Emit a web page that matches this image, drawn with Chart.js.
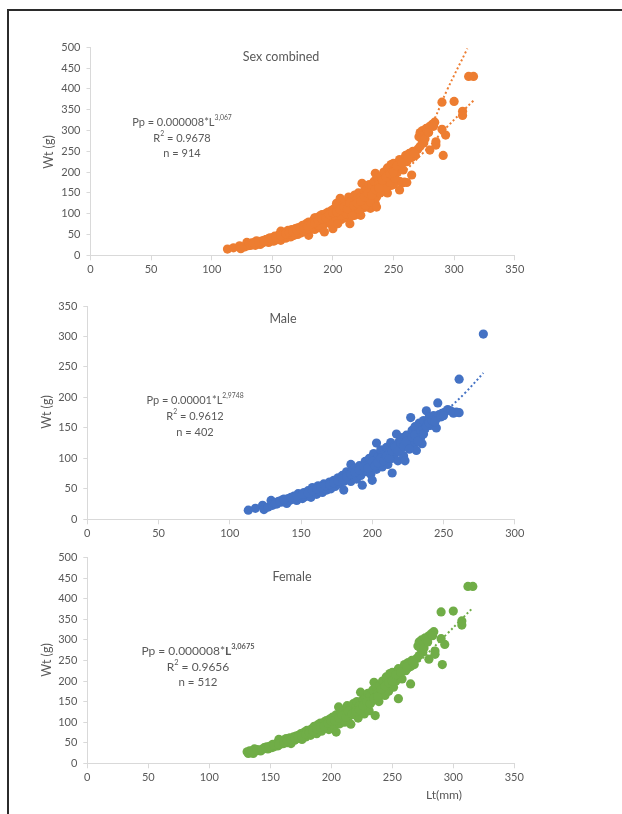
<!DOCTYPE html>
<html>
<head>
<meta charset="utf-8">
<script src="https://cdn.jsdelivr.net/npm/chart.js@4.4.0/dist/chart.umd.min.js"></script>
<style>
  body { margin: 0; background: #fff; width: 622px; height: 814px; overflow: hidden; position: relative; }
  .frame { position: absolute; left: 7px; top: 9px; width: 700px; height: 900px; border-left: 2px solid #2b2b2b; border-top: 2px solid #2b2b2b; }
  canvas { position: absolute; left: 0; }
</style>
</head>
<body>
<div class="frame"></div>
<canvas id="chartAll" width="622" height="290" style="top:0px"></canvas>
<canvas id="chartMale" width="622" height="260" style="top:285px"></canvas>
<canvas id="chartFemale" width="622" height="269" style="top:545px"></canvas>
<script>
// Male: total length (mm) and weight (g)
const maleLt = [113, 118, 123, 124, 127, 129, 130, 131, 133, 134, 136, 137, 139, 140, 141, 142, 144, 145, 146, 147,
  148, 149, 150, 151, 152, 153, 154, 155, 156, 157, 158, 159, 160, 161, 162, 163, 164, 165, 166, 167,
  168, 169, 170, 171, 172, 173, 174, 175, 176, 177, 178, 179, 180, 180, 181, 182, 183, 184, 185, 185,
  186, 187, 188, 189, 190, 191, 192, 193, 194, 195, 196, 197, 198, 199, 200, 200, 201, 202, 203, 203,
  204, 205, 206, 207, 208, 209, 210, 211, 212, 213, 214, 214, 215, 216, 217, 218, 219, 220, 221, 222,
  223, 224, 225, 226, 227, 228, 229, 230, 231, 232, 233, 234, 235, 236, 237, 238, 239, 240, 241, 243,
  245, 245, 246, 247, 249, 251, 253, 255, 257, 259, 261, 261, 278,
  132, 135, 138, 143, 147, 151, 155, 158, 161, 164, 167, 170, 173, 176, 179, 182, 185, 188, 191, 194,
  197, 200, 202, 204, 206, 208, 210, 212, 214, 216, 218, 220, 222, 224, 226, 228, 230, 232, 234, 236,
  238, 240, 242, 244, 248, 250];
const maleWt = [15, 18, 23, 16, 20, 31, 23, 27, 25, 29, 28, 32, 30, 26, 34, 31, 33, 38, 35, 31,
  42, 36, 39, 34, 44, 37, 41, 47, 40, 36, 52, 44, 48, 41, 55, 46, 50, 44, 58, 52,
  48, 56, 61, 50, 57, 64, 54, 60, 68, 58, 64, 72, 48, 62, 70, 78, 66, 74, 90, 62,
  80, 70, 84, 66, 78, 88, 72, 56, 84, 95, 78, 90, 100, 74, 64, 86, 108, 96, 125, 82,
  102, 92, 114, 86, 106, 98, 118, 90, 110, 126, 76, 100, 120, 108, 140, 96, 128, 115, 134, 104,
  96, 138, 120, 130, 167, 146, 124, 152, 113, 140, 158, 134, 124, 162, 150, 178, 158, 168, 154, 170,
  150, 165, 191, 172, 174, 176, 180, 178, 174, 176, 175, 230, 304,
  26, 30, 33, 36, 38, 41, 43, 47, 50, 53, 55, 57, 60, 63, 66, 70, 74, 77, 81, 86,
  84, 95, 88, 93, 100, 96, 104, 100, 112, 118, 112, 125, 120, 128, 115, 135, 138, 128, 145, 140,
  152, 158, 162, 160, 168, 170];

// Female: total length (mm) and weight (g)
const femaleLt = [131, 132, 133, 134, 136, 137, 138, 140, 142, 144, 145, 146, 147, 148, 150, 151, 152, 153, 154, 155,
  156, 157, 158, 159, 160, 161, 162, 163, 164, 165, 166, 167, 168, 169, 170, 171, 172, 173, 174, 175,
  176, 177, 178, 179, 180, 181, 182, 183, 184, 185, 186, 187, 188, 189, 190, 191, 192, 193, 194, 195,
  196, 197, 198, 199, 200, 201, 202, 204, 204, 205, 206, 207, 208, 209, 210, 211, 212, 213, 214, 215,
  216, 217, 218, 219, 220, 221, 222, 223, 224, 225, 226, 227, 228, 229, 230, 231, 232, 233, 234, 235,
  236, 236, 237, 238, 239, 240, 241, 242, 243, 244, 245, 246, 247, 248, 249, 250, 251, 252, 253, 255,
  255, 256, 258, 260, 261, 263, 265, 265, 266, 268, 270, 271, 272, 273, 274, 275, 276, 277, 278, 280,
  280, 282, 284, 285, 285, 290, 290, 291, 293, 300, 307, 307, 312, 316,
  135, 139, 143, 149, 153, 157, 161, 164, 167, 170, 173, 176, 179, 182, 185, 188, 191, 194, 197, 200,
  203, 206, 209, 212, 214, 217, 220, 223, 226, 229, 232, 235, 238, 241, 244, 247, 250, 253, 257, 262,
  267, 272, 276, 279, 283];
const femaleWt = [28, 24, 30, 26, 24, 35, 30, 32, 30, 34, 38, 36, 40, 35, 42, 38, 46, 40, 44, 48,
  42, 58, 46, 52, 56, 48, 54, 60, 50, 56, 62, 48, 58, 64, 56, 66, 60, 68, 62, 72,
  58, 70, 76, 64, 80, 70, 78, 68, 84, 74, 90, 80, 72, 94, 84, 98, 78, 92, 100, 86,
  104, 94, 82, 108, 96, 112, 90, 76, 118, 104, 137, 96, 120, 110, 128, 100, 122, 140, 112, 132,
  95, 126, 145, 118, 136, 150, 110, 140, 173, 130, 155, 120, 160, 140, 170, 128, 165, 150, 178, 197,
  116, 160, 185, 170, 150, 190, 172, 200, 182, 165, 210, 190, 175, 218, 200, 221, 185, 210, 200, 157,
  230, 215, 205, 240, 225, 245, 193, 235, 250, 240, 255, 285, 295, 280, 300, 270, 292, 305, 298, 253,
  310, 315, 320, 273, 265, 303, 368, 240, 289, 370, 346, 336, 430, 430,
  30, 33, 34, 40, 44, 47, 52, 55, 57, 61, 64, 66, 70, 74, 78, 84, 88, 90, 98, 102,
  104, 110, 116, 112, 126, 120, 126, 130, 140, 150, 145, 158, 162, 180, 188, 196, 200, 215, 222, 235,
  245, 262, 280, 295, 310];

// dotted trend lines
const allTrendLt = [113, 150, 200, 250, 274, 294, 316];
const allTrendWt = [15, 38, 91, 181, 245, 308, 372];
const allTrend2Lt = [250, 270, 284, 294, 311];
const allTrend2Wt = [190, 250, 329, 396, 497];
const maleTrendLt = [113, 150, 200, 230, 253, 265, 278];
const maleTrendWt = [14, 33, 80, 125, 180, 207, 240];
const femaleTrendLt = [131, 150, 175, 200, 225, 250, 273, 295, 316];
const femaleTrendWt = [25, 38, 62, 92, 135, 185, 250, 315, 378];

const orange = '#ED7D31';
const blue = '#4472C4';
const green = '#70AD47';
const grey = '#595959';
const axisGrey = '#D9D9D9';
const FONT = 'Lato, "Open Sans", sans-serif';

const toPoints = (xs, ys) => xs.map((x, i) => ({x: x, y: ys[i]}));

function scatterSet(xs, ys, color) {
    return {
        data: toPoints(xs, ys),
        backgroundColor: color,
        borderColor: color,
        borderWidth: 0,
        pointRadius: 4.6,
        order: 1,
    };
}

function trendSet(xs, ys, color) {
    return {
        data: toPoints(xs, ys),
        showLine: true,
        borderColor: color,
        borderWidth: 2,
        borderDash: [2, 2.5],
        pointRadius: 0,
        tension: 0.4,
        fill: false,
        order: 2,
    };
}

// text drawn on top: titles, equations, axis titles
function textPlugin(items) {
    return {
        id: 'texts',
        afterDraw(chart) {
            const ctx = chart.ctx;
            ctx.save();
            ctx.fillStyle = grey;
            ctx.textBaseline = 'middle';
            for (const it of items) {
                const size = it.size || 11;
                const fontFor = (style) => {
                    const s = style.startsWith('sup') ? size * 0.62 : size;
                    const w = style.endsWith('b') ? 'bold ' : '';
                    return w + s + 'px ' + FONT;
                };
                if (it.rotate) {
                    ctx.save();
                    ctx.translate(it.x, it.y);
                    ctx.rotate(-Math.PI / 2);
                    ctx.font = fontFor('');
                    ctx.textAlign = 'center';
                    ctx.fillText(it.parts[0][0], 0, 0);
                    ctx.restore();
                    continue;
                }
                ctx.textAlign = 'left';
                let total = 0;
                for (const [t, st] of it.parts) {
                    ctx.font = fontFor(st);
                    total += ctx.measureText(t).width;
                }
                let x = it.x - total / 2;
                for (const [t, st] of it.parts) {
                    ctx.font = fontFor(st);
                    const dy = st.startsWith('sup') ? -size * 0.38 : 0;
                    ctx.fillText(t, x, it.y + dy);
                    x += ctx.measureText(t).width;
                }
            }
            ctx.restore();
        }
    };
}

function makeChart(id, datasets, cfg) {
    const top = cfg.top;
    const yWidth = 40;
    const xHeight = 25;
    return new Chart(document.getElementById(id).getContext('2d'), {
        type: 'scatter',
        data: {datasets: datasets},
        options: {
            responsive: false,
            animation: false,
            layout: {
                padding: {
                    left: cfg.left - yWidth,
                    right: 622 - cfg.right,
                    top: cfg.areaTop - top,
                    bottom: cfg.height - (cfg.areaBottom - top) - xHeight,
                },
            },
            plugins: {legend: {display: false}, tooltip: {enabled: false}},
            scales: {
                x: {
                    type: 'linear',
                    min: 0,
                    max: cfg.xMax,
                    afterFit: (s) => { s.height = xHeight; },
                    ticks: {stepSize: 50, color: grey, font: {family: FONT, size: 11}, padding: 3},
                    grid: {drawOnChartArea: false, drawTicks: true, tickLength: 5, color: axisGrey},
                    border: {color: axisGrey, width: 1},
                },
                y: {
                    type: 'linear',
                    min: 0,
                    max: cfg.yMax,
                    afterFit: (s) => { s.width = yWidth; },
                    ticks: {stepSize: 50, color: grey, font: {family: FONT, size: 11}, padding: 6},
                    grid: {drawOnChartArea: false, drawTicks: true, tickLength: 4, color: axisGrey},
                    border: {color: axisGrey, width: 1},
                },
            },
        },
        plugins: [textPlugin(cfg.texts.map(t => Object.assign({}, t, {y: t.y - top})))],
    });
}

makeChart('chartAll', [
    scatterSet(maleLt.concat(femaleLt), maleWt.concat(femaleWt), orange),
    trendSet(allTrendLt, allTrendWt, orange),
    trendSet(allTrend2Lt, allTrend2Wt, orange),
], {
    top: 0, height: 290, left: 90.5, right: 514.7, areaTop: 47.3, areaBottom: 255.3, xMax: 350, yMax: 500,
    texts: [
        {x: 281, y: 57, size: 12.5, parts: [['Sex combined', '']]},
        {x: 182, y: 122, parts: [['Pp = 0.000008*L', ''], ['3,067', 'sup']]},
        {x: 182, y: 138, parts: [['R', ''], ['2', 'sup'], [' = 0.9678', '']]},
        {x: 182, y: 153, parts: [['n = 914', '']]},
        {x: 49, y: 152, size: 12.5, rotate: true, parts: [['Wt (g)', '']]},
    ],
});

makeChart('chartMale', [
    scatterSet(maleLt, maleWt, blue),
    trendSet(maleTrendLt, maleTrendWt, blue),
], {
    top: 285, height: 260, left: 87.3, right: 514.7, areaTop: 306, areaBottom: 519.3, xMax: 300, yMax: 350,
    texts: [
        {x: 283, y: 319, size: 12.5, parts: [['Male', '']]},
        {x: 195, y: 400, parts: [['Pp = 0.00001*L', ''], ['2,9748', 'sup']]},
        {x: 195, y: 416, parts: [['R', ''], ['2', 'sup'], [' = 0.9612', '']]},
        {x: 195, y: 432, parts: [['n = 402', '']]},
        {x: 47, y: 412, size: 12.5, rotate: true, parts: [['Wt (g)', '']]},
    ],
});

makeChart('chartFemale', [
    scatterSet(femaleLt, femaleWt, green),
    trendSet(femaleTrendLt, femaleTrendWt, green),
], {
    top: 545, height: 269, left: 87.3, right: 514.3, areaTop: 556, areaBottom: 763.3, xMax: 350, yMax: 500,
    texts: [
        {x: 292, y: 577, size: 12.5, parts: [['Female', '']]},
        {x: 198, y: 651, size: 12, parts: [['Pp = 0.000008*', ''], ['L', 'b'], ['3,0675', 'supb']]},
        {x: 198, y: 667, size: 12, parts: [['R', ''], ['2', 'sup'], [' = 0.9656', '']]},
        {x: 198, y: 682, size: 11.5, parts: [['n = 512', '']]},
        {x: 47, y: 660, size: 12.5, rotate: true, parts: [['Wt (g)', '']]},
        {x: 444, y: 795, size: 12, parts: [['Lt(mm)', '']]},
    ],
});
</script>
</body>
</html>
